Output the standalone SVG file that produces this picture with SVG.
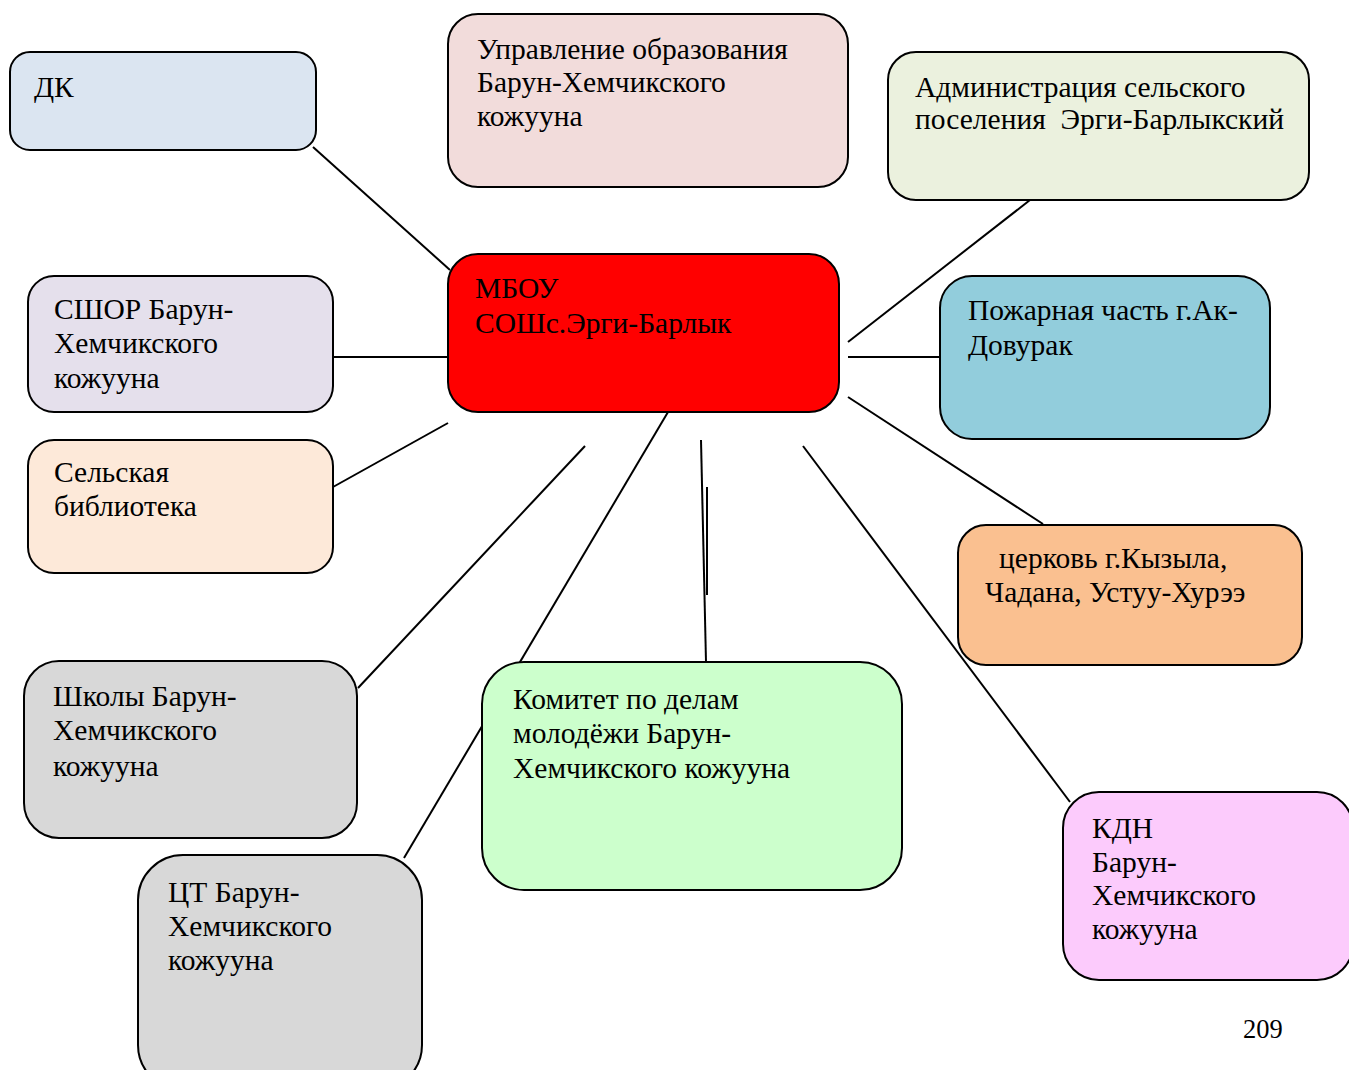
<svg xmlns="http://www.w3.org/2000/svg" width="1349" height="1070" viewBox="0 0 1349 1070">
<style>
.box{stroke:#000;stroke-width:2}
.t{font-family:"Liberation Serif","Times New Roman",serif;font-size:29.5px;fill:#000}
.c{stroke:#000;stroke-width:2;fill:none}
</style>
<rect x="0" y="0" width="1349" height="1070" fill="#fff"/>
<g id="connectors">
<line class="c" x1="313" y1="147" x2="450" y2="270"/>
<line class="c" x1="333" y1="357" x2="448" y2="357"/>
<line class="c" x1="333" y1="487" x2="448" y2="423"/>
<line class="c" x1="358" y1="688" x2="585" y2="446"/>
<line class="c" x1="668" y1="412" x2="404" y2="858"/>
<line class="c" x1="701" y1="440" x2="706" y2="662"/>
<line class="c" x1="707" y1="487" x2="707" y2="595"/>
<line class="c" x1="803" y1="446" x2="1070" y2="802"/>
<line class="c" x1="848" y1="397" x2="1043" y2="524"/>
<line class="c" x1="848" y1="357" x2="940" y2="357"/>
<line class="c" x1="848" y1="342" x2="1030" y2="200"/>
</g>
<g id="dk"><rect class="box" x="10" y="52" width="306" height="98" rx="20" fill="#dbe5f1"/>
<text class="t" x="34" y="97">ДК</text></g>
<g id="uprav"><rect class="box" x="448" y="14" width="400" height="173" rx="30" fill="#f2dcdb"/>
<text class="t" x="477" y="59">Управление образования</text>
<text class="t" x="477" y="92">Барун-Хемчикского</text>
<text class="t" x="477" y="126">кожууна</text></g>
<g id="admin"><rect class="box" x="888" y="52" width="421" height="148" rx="28" fill="#ebf1de"/>
<text class="t" x="915" y="97">Администрация сельского</text>
<text class="t" x="915" y="129" xml:space="preserve">поселения  Эрги-Барлыкский</text></g>
<g id="mbou"><rect class="box" x="448" y="254" width="391" height="158" rx="30" fill="#ff0000"/>
<text class="t" x="475" y="298">МБОУ</text>
<text class="t" x="475" y="333">СОШс.Эрги-Барлык</text></g>
<g id="sshor"><rect class="box" x="28" y="276" width="305" height="136" rx="26" fill="#e5e0ec"/>
<text class="t" x="54" y="319">СШОР Барун-</text>
<text class="t" x="54" y="353">Хемчикского</text>
<text class="t" x="54" y="388">кожууна</text></g>
<g id="biblio"><rect class="box" x="28" y="440" width="305" height="133" rx="26" fill="#fde9d9"/>
<text class="t" x="54" y="482">Сельская</text>
<text class="t" x="54" y="516">библиотека</text></g>
<g id="pozhar"><rect class="box" x="940" y="276" width="330" height="163" rx="32" fill="#92cddc"/>
<text class="t" x="968" y="320">Пожарная часть г.Ак-</text>
<text class="t" x="968" y="355">Довурак</text></g>
<g id="cerkov"><rect class="box" x="958" y="525" width="344" height="140" rx="28" fill="#fac090"/>
<text class="t" x="999" y="568">церковь г.Кызыла,</text>
<text class="t" x="985" y="602">Чадана, Устуу-Хурээ</text></g>
<g id="shkoly"><rect class="box" x="24" y="661" width="333" height="177" rx="35" fill="#d8d8d8"/>
<text class="t" x="53" y="706">Школы Барун-</text>
<text class="t" x="53" y="740">Хемчикского</text>
<text class="t" x="53" y="776">кожууна</text></g>
<g id="komitet"><rect class="box" x="482" y="662" width="420" height="228" rx="42" fill="#ccffcc"/>
<text class="t" x="513" y="709">Комитет по делам</text>
<text class="t" x="513" y="743">молодёжи Барун-</text>
<text class="t" x="513" y="778">Хемчикского кожууна</text></g>
<g id="ct"><rect class="box" x="138" y="855" width="284" height="235" rx="45" fill="#d8d8d8"/>
<text class="t" x="168" y="902">ЦТ Барун-</text>
<text class="t" x="168" y="936">Хемчикского</text>
<text class="t" x="168" y="970">кожууна</text></g>
<g id="kdn"><rect class="box" x="1063" y="792" width="290" height="188" rx="36" fill="#fccbfc"/>
<text class="t" x="1092" y="838">КДН</text>
<text class="t" x="1092" y="872">Барун-</text>
<text class="t" x="1092" y="905">Хемчикского</text>
<text class="t" x="1092" y="939">кожууна</text></g>
<text class="t" x="1243" y="1038" style="font-size:26.5px">209</text>
</svg>
